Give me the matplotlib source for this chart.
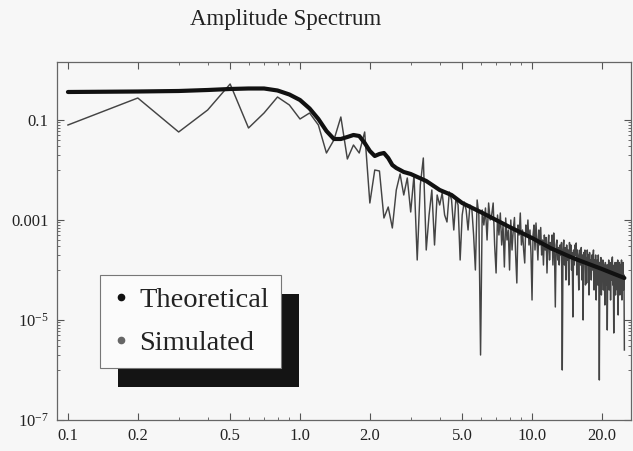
import numpy as np
import matplotlib
matplotlib.use("Agg")
import matplotlib.pyplot as plt
from matplotlib.lines import Line2D
from matplotlib.patches import Rectangle
from matplotlib.ticker import FixedLocator, NullFormatter

plt.rcParams['font.family'] = ['Liberation Serif', 'DejaVu Serif']
plt.rcParams['mathtext.fontset'] = 'custom'
plt.rcParams['mathtext.rm'] = 'Liberation Serif'
plt.rcParams['mathtext.it'] = 'Liberation Serif:italic'

title = "Amplitude Spectrum"
series_names = ["Theoretical", "Simulated"]

# theoretical spectrum (frequency, log10 amplitude)
theo_freq = [0.1, 0.2, 0.3, 0.4, 0.5, 0.6, 0.7, 0.8, 0.9, 1.0,
             1.1, 1.2, 1.3, 1.4, 1.5, 1.6, 1.7, 1.8, 1.9, 2.0,
             2.1, 2.2, 2.3, 2.4, 2.5, 2.6, 2.7, 2.8, 2.9, 3.0,
             3.5, 4.0, 4.5, 5.0, 6.0, 7.0, 8.0, 10.0, 12.0, 15.0, 20.0, 25.0]
theo_log10 = [-0.44, -0.43, -0.42, -0.40, -0.38, -0.37, -0.37, -0.41, -0.49, -0.60,
              -0.77, -0.98, -1.22, -1.38, -1.38, -1.34, -1.30, -1.32, -1.46, -1.62,
              -1.72, -1.68, -1.66, -1.76, -1.90, -1.96, -2.00, -2.04, -2.06, -2.08,
              -2.22, -2.40, -2.50, -2.66, -2.84, -3.00, -3.14, -3.36, -3.56, -3.76, -3.98, -4.16]

# simulated spectrum, sampled every 0.1 from 0.1 to 25.0 (log10 amplitude)
sim_df = 0.1
sim_log10 = [
    -1.10, -0.56, -1.24, -0.80, -0.28, -1.16, -0.86, -0.54, -0.70, -0.98,
    -0.86, -1.10, -1.66, -1.40, -0.94, -1.78, -1.50, -1.66, -1.24, -2.66,
    -2.00, -2.02, -2.96, -2.74, -3.16, -2.40, -2.08, -2.50, -2.16, -2.84,
    -2.10, -3.80, -2.30, -1.76, -3.60, -2.90, -2.40, -3.50, -2.50, -2.70,
    -2.46, -2.90, -3.04, -2.44, -2.60, -3.20, -2.56, -2.70, -3.80, -2.90,
    -2.64, -2.80, -3.20, -2.70, -2.76, -3.30, -4.00, -2.60, -2.90, -5.70,
    -2.80, -3.10, -2.76, -3.40, -2.66, -3.00, -2.90, -2.66, -3.50, -4.06,
    -2.90, -3.30, -2.86, -3.50, -3.10, -3.94, -2.96, -3.40, -3.20, -4.00,
    -3.00, -3.60, -3.20, -2.95, -3.70, -4.26, -3.10, -3.30, -2.86, -3.50,
    -3.20, -3.60, -3.86, -3.10, -3.30, -3.00, -3.50, -3.20, -3.70, -4.60,
    -3.30, -3.10, -3.60, -3.06, -3.40, -3.80, -3.20, -3.50, -3.15, -3.70,
    -3.40, -3.90, -3.30, -3.60, -3.35, -4.06, -3.50, -3.30, -3.80, -3.45,
    -3.60, -3.30, -3.90, -3.26, -3.70, -4.74, -3.50, -3.40, -3.80, -3.55,
    -3.90, -3.50, -3.70, -3.45, -6.00, -3.60, -3.40, -3.90, -3.55, -4.20,
    -3.50, -3.80, -3.60, -4.30, -3.45, -3.70, -3.50, -4.00, -3.65, -4.94,
    -3.60, -3.90, -3.50, -3.70, -3.46, -4.10, -3.60, -3.80, -4.40, -3.70,
    -3.60, -3.90, -3.55, -4.20, -3.70, -5.00, -3.65, -3.85, -3.60, -4.30,
    -3.75, -4.26, -3.60, -3.90, -3.70, -4.50, -3.65, -4.00, -3.80, -4.20,
    -3.70, -4.00, -3.75, -3.60, -4.40, -3.80, -4.10, -3.70, -4.60, -3.90,
    -3.80, -4.30, -3.70, -4.00, -6.20, -3.85, -4.10, -3.75, -4.50, -3.90,
    -4.20, -3.80, -4.40, -3.90, -4.10, -4.70, -3.85, -4.00, -4.30, -3.90,
    -5.20, -3.90, -4.10, -3.80, -4.40, -4.00, -3.85, -4.60, -3.95, -4.20,
    -3.80, -3.74, -4.30, -4.00, -5.26, -3.90, -4.20, -3.85, -4.50, -4.00,
    -4.10, -3.85, -4.40, -3.80, -4.90, -4.00, -4.20, -3.85, -4.50, -4.00,
    -3.90, -4.30, -3.80, -4.60, -4.00, -4.20, -3.85, -4.40, -4.10, -5.60,
]
sim_freq = np.round(np.arange(1, len(sim_log10) + 1) * sim_df, 1)

x_major = [0.1, 0.2, 0.5, 1.0, 2.0, 5.0, 10.0, 20.0]
x_major_labels = ["0.1", "0.2", "0.5", "1.0", "2.0", "5.0", "10.0", "20.0"]
x_minor = [0.3, 0.4, 0.6, 0.7, 0.8, 0.9, 3.0, 4.0, 6.0, 7.0, 8.0, 9.0]
y_major = [1e-1, 1e-3, 1e-5, 1e-7]
y_major_labels = ["0.1", "0.001", r"$10^{-5}$", r"$10^{-7}$"]

bg = '#f7f7f7'
fig = plt.figure(figsize=(6.33, 4.51), dpi=100, facecolor=bg)
ax = fig.add_axes([57 / 633, 1 - 420 / 451, (631 - 57) / 633, (420 - 62) / 451])
ax.set_facecolor(bg)

sim_vals = 10.0 ** np.array(sim_log10)
theo_vals = 10.0 ** np.array(theo_log10)
ax.plot(sim_freq, sim_vals, color='#444444', lw=1.05, zorder=2)
ax.plot(theo_freq, theo_vals, color='#111111', lw=3.0, zorder=3,
        solid_joinstyle='round', solid_capstyle='round')

ax.set_xscale('log')
ax.set_yscale('log')
ax.set_xlim(0.0897, 26.7)
ax.set_ylim(1e-7, 1.445)

ax.xaxis.set_major_locator(FixedLocator(x_major))
ax.set_xticklabels(x_major_labels)
ax.xaxis.set_minor_locator(FixedLocator(x_minor))
ax.xaxis.set_minor_formatter(NullFormatter())

y_minor = []
for m in y_major:
    for k in range(1, 10):
        y_minor.append(k * m / 10)
y_minor = [v for v in y_minor if v not in y_major]
ax.yaxis.set_major_locator(FixedLocator(y_major))
ax.set_yticklabels(y_major_labels)
ax.yaxis.set_minor_locator(FixedLocator(y_minor))
ax.yaxis.set_minor_formatter(NullFormatter())

ax.tick_params(which='both', direction='in', top=True, right=True, colors='#555555',
               labelcolor='#222222')
ax.tick_params(which='major', length=5, width=0.8, labelsize=12, pad=6)
ax.tick_params(which='minor', length=2.5, width=0.6)
for s in ax.spines.values():
    s.set_color('#666666')
    s.set_linewidth(0.9)

fig.text(286 / 633, 1 - 20 / 451, title, ha='center', va='center',
         fontsize=16.5, color='#222222')

handles = [Line2D([], [], ls='none', marker='o', ms=4.5, color='#111111'),
           Line2D([], [], ls='none', marker='o', ms=4.5, color='#666666')]
leg = ax.legend(handles, series_names, loc='lower left',
                bbox_to_anchor=((100 - 57) / 574, (420 - 368) / 358),
                borderaxespad=0, fontsize=20.5, frameon=True, fancybox=False,
                framealpha=1, edgecolor='#777777', facecolor='#fbfbfb',
                handlelength=0.65, handletextpad=0.3, labelspacing=0.6,
                borderpad=0.43)
leg.get_frame().set_linewidth(0.8)
leg.set_zorder(6)
for t in leg.get_texts():
    t.set_color('#222222')

fig.canvas.draw()
bb = leg.get_window_extent()
inv = ax.transAxes.inverted()
(x0, y0) = inv.transform((bb.x0 + 18, bb.y0 - 19))
(x1, y1) = inv.transform((bb.x1 + 18, bb.y1 - 19))
ax.add_patch(Rectangle((x0, y0), x1 - x0, y1 - y0, transform=ax.transAxes,
                       facecolor='#141414', edgecolor='none', zorder=5.5, clip_on=False))

fig.savefig('out.png', dpi=100, facecolor=bg)
